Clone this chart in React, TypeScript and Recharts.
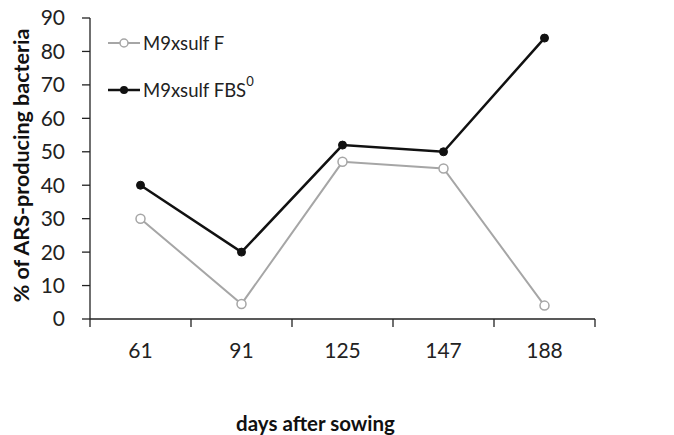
import { LineChart, Line, XAxis, YAxis } from 'recharts';

const days = ['61', '91', '125', '147', '188'];
const sulfF = [30, 4.5, 47, 45, 4];
const sulfFBS = [40, 20, 52, 50, 84];
const yTicks = [0, 10, 20, 30, 40, 50, 60, 70, 80, 90];

const data = days.map((d, i) => ({ day: d, f: sulfF[i], fbs: sulfFBS[i] }));

const FONT = 'Lato, "Open Sans", sans-serif';
const W = 674;
const H = 435;
const M = { top: 18, right: 79, left: 0, bottom: 0 };
const Y_W = 90;
const BAND = (W - M.right - M.left - Y_W) / days.length;

function XTick(props: any) {
  const { x, y, payload, index } = props;
  const last = index === days.length - 1;
  return (
    <g>
      <line x1={x - BAND / 2} x2={x - BAND / 2} y1={y - 8} y2={y} stroke="#222" strokeWidth={1.3} />
      {last && <line x1={x + BAND / 2} x2={x + BAND / 2} y1={y - 8} y2={y} stroke="#222" strokeWidth={1.3} />}
      <text x={x} y={y + 31} textAnchor="middle" fontSize={21} fill="#222" fontFamily={FONT}>
        {payload.value}
      </text>
    </g>
  );
}

function LegendBox() {
  return (
    <svg width={200} height={80} style={{ position: 'absolute', left: 106, top: 31 }}>
      <line x1={2} x2={34} y1={12} y2={12} stroke="#a6a6a6" strokeWidth={2} />
      <circle cx={18} cy={12} r={4} fill="#fff" stroke="#a6a6a6" strokeWidth={1.5} />
      <text x={37} y={18.5} fontSize={18.5} fill="#222" fontFamily={FONT}>M9xsulf F</text>
      <line x1={2} x2={34} y1={59} y2={59} stroke="#111" strokeWidth={2.5} />
      <circle cx={18} cy={59} r={4} fill="#111" />
      <text x={37} y={65.5} fontSize={18.5} fill="#222" fontFamily={FONT}>
        M9xsulf FBS
        <tspan dy={-11} fontSize={13}>0</tspan>
      </text>
    </svg>
  );
}

export default function App() {
  return (
    <div style={{ position: 'absolute', left: 0, top: 0, width: W, height: H, background: '#fff' }}>
      <LineChart width={W} height={H} data={data} margin={M}>
        <XAxis
          dataKey="day"
          scale="band"
          height={116}
          tickLine={false}
          axisLine={{ stroke: '#222', strokeWidth: 1.3 }}
          tick={<XTick />}
          interval={0}
          label={{ value: 'days after sowing', position: 'insideBottom', offset: 4, dx: -27, fontSize: 20.5, fontWeight: 'bold', fill: '#111', fontFamily: FONT }}
        />
        <YAxis
          width={Y_W}
          domain={[0, 90]}
          ticks={yTicks}
          interval={0}
          tickSize={8}
          tickLine={{ stroke: '#222', strokeWidth: 1.3 }}
          axisLine={{ stroke: '#222', strokeWidth: 1.3 }}
          tick={{ fontSize: 21, fill: '#222', fontFamily: FONT }}
          tickMargin={17}
          label={{ value: '% of ARS-producing  bacteria', angle: -90, position: 'insideLeft', offset: 21, dy: -3, style: { textAnchor: 'middle' }, fontSize: 21.5, fontWeight: 'bold', fill: '#111', fontFamily: FONT }}
        />
        <Line
          dataKey="f"
          stroke="#a6a6a6"
          strokeWidth={2}
          dot={{ r: 4.5, fill: '#fff', stroke: '#a6a6a6', strokeWidth: 1.5 }}
          isAnimationActive={false}
        />
        <Line
          dataKey="fbs"
          stroke="#111"
          strokeWidth={2.5}
          dot={{ r: 4, fill: '#111', stroke: '#111', strokeWidth: 1 }}
          isAnimationActive={false}
        />
      </LineChart>
      <LegendBox />
    </div>
  );
}
